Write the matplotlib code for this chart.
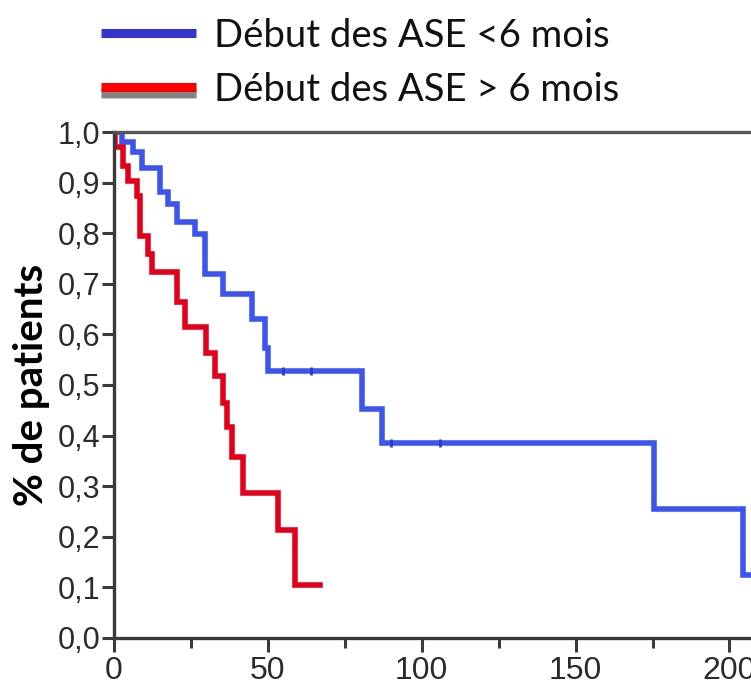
import matplotlib
matplotlib.use("Agg")
import matplotlib.pyplot as plt
from matplotlib.ticker import MultipleLocator, FuncFormatter
from matplotlib.lines import Line2D
import matplotlib.patheffects as pe

# Kaplan-Meier steps: time (months) and survival fraction
early_times = [0, 2.5, 6.3, 9.1, 15.0, 17.5, 20.4, 26.3, 29.5, 35.4, 45.0, 49.0, 50.0,
               80.5, 87.0, 175.6, 204.4, 212.0]
early_surv = [1.0, 0.98, 0.96, 0.929, 0.881, 0.857, 0.822, 0.798, 0.719, 0.679, 0.63,
              0.574, 0.527, 0.453, 0.386, 0.255, 0.125, 0.125]
early_censor_t = [55, 64, 90, 106]
early_censor_s = [0.527, 0.527, 0.386, 0.386]

late_times = [0, 0.4, 3.0, 4.6, 7.4, 8.4, 11.0, 12.3, 20.4, 23.0, 30.0, 32.8, 35.4,
              36.7, 38.3, 41.9, 53.2, 58.8, 67.0]
late_surv = [1.0, 0.97, 0.933, 0.903, 0.873, 0.794, 0.758, 0.723, 0.665, 0.614, 0.564,
             0.517, 0.465, 0.416, 0.358, 0.287, 0.214, 0.105, 0.105]

label_early = "Début des ASE <6 mois"
label_late = "Début des ASE > 6 mois"
y_label = "% de patients"

blue = "#3d55ee"
red = "#e3001b"
axis_col = "#3a3a3a"

fig = plt.figure(figsize=(7.51, 6.93), dpi=100)
ax = fig.add_axes([0.1518, 0.0794, 0.8482, 0.7301])

ax.step(early_times, early_surv, where="post", color=blue, lw=4.0, solid_joinstyle="miter")
ax.step(late_times, late_surv, where="post", color=red, lw=4.0, solid_joinstyle="miter")
ax.plot(early_censor_t, early_censor_s, ls="none", marker="|", ms=6, mew=2, color="#2a3cc0")

ax.set_xlim(0, 207)
ax.set_ylim(0, 1.0)

ax.spines["right"].set_visible(False)
for side in ("left", "bottom", "top"):
    ax.spines[side].set_color(axis_col)
    ax.spines[side].set_linewidth(2.4)
ax.spines["top"].set_color("#555555")

ax.yaxis.set_major_locator(MultipleLocator(0.1))
ax.xaxis.set_major_locator(MultipleLocator(50))
ax.xaxis.set_minor_locator(MultipleLocator(25))
ax.yaxis.set_major_formatter(FuncFormatter(lambda v, p: f"{v:.1f}".replace(".", ",")))
ax.xaxis.set_major_formatter(FuncFormatter(lambda v, p: f"{v:.0f}"))

ax.tick_params(axis="y", direction="out", length=9, width=2.2, color=axis_col,
               labelsize=22, labelcolor="#2b2b2b", pad=1)
ax.tick_params(axis="x", which="major", direction="out", length=10, width=2.2,
               color=axis_col, labelsize=23, labelcolor="#2b2b2b", pad=3)
ax.tick_params(axis="x", which="minor", direction="out", length=7, width=2.2, color=axis_col)
for lab in ax.get_xticklabels() + ax.get_yticklabels():
    lab.set_fontfamily("Liberation Sans")

ax.set_ylabel(y_label, fontsize=29, fontweight="bold", family="Lato")
ax.yaxis.set_label_coords(-0.10, 0.5)

handles = [Line2D([], [], color="#3535cf", lw=6.5, solid_capstyle="butt"),
           Line2D([], [], color="#ff0000", lw=6.5, solid_capstyle="butt")]
leg = fig.legend(handles, [label_early, label_late], loc="upper left",
                 bbox_to_anchor=(0.119, 0.991), frameon=False,
                 prop=dict(family="Lato", size=27.5), handlelength=2.5,
                 handletextpad=0.45, labelspacing=0.47, borderaxespad=0, borderpad=0.3)
leg.get_lines()[1].set_path_effects([
    pe.SimpleLineShadow(offset=(0, -4), shadow_color="#666666", alpha=0.35, linewidth=8),
    pe.SimpleLineShadow(offset=(0, -4), shadow_color="#555555", alpha=0.6),
    pe.Normal()])
for t in leg.get_texts():
    t.set_color("#111111")

fig.savefig("out.png", dpi=100)
